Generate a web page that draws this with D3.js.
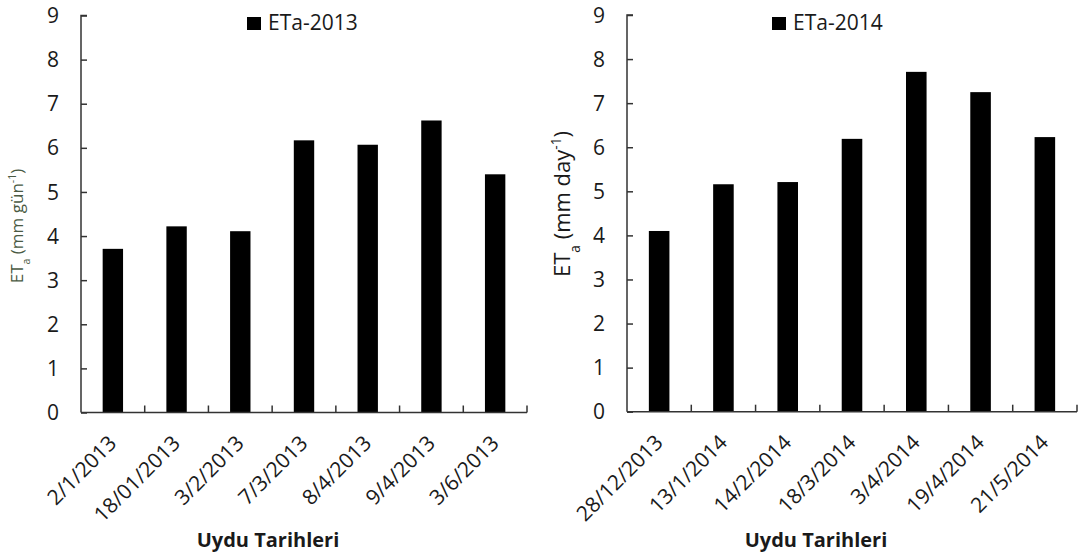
<!DOCTYPE html>
<html>
<head>
<meta charset="utf-8">
<script src="https://cdn.jsdelivr.net/npm/d3@7"></script>
<style>
  body { margin: 0; background: #fff; }
  svg { display: block; font-family: "Open Sans", sans-serif; }
</style>
</head>
<body>
<script>
// data
var dates2013 = ["2/1/2013", "18/01/2013", "3/2/2013", "7/3/2013", "8/4/2013", "9/4/2013", "3/6/2013"];
var eta2013 = [3.71, 4.22, 4.11, 6.17, 6.07, 6.62, 5.40];

var dates2014 = ["28/12/2013", "13/1/2014", "14/2/2014", "18/3/2014", "3/4/2014", "19/4/2014", "21/5/2014"];
var eta2014 = [4.10, 5.16, 5.21, 6.19, 7.71, 7.25, 6.23];

var yTicks = [0, 1, 2, 3, 4, 5, 6, 7, 8, 9];
var xTitle = "Uydu Tarihleri";

var width = 1078, height = 556;

var svg = d3.select("body").append("svg")
    .attr("width", width)
    .attr("height", height);

drawPanel({
  x0: 81, x1: 527, y0: 412.5, y1: 15.5,
  dates: dates2013, values: eta2013, legend: "ETa-2013",
  legendX: 247,
  unit: "gün", titleX: 17, titleY: 226, titleSize: 17, titleColor: "#4a5a43"
});

drawPanel({
  x0: 627, x1: 1077, y0: 411.7, y1: 15,
  dates: dates2014, values: eta2014, legend: "ETa-2014",
  legendX: 772,
  unit: "day", titleX: 562, titleY: 204, titleSize: 22, titleColor: "#1a1a1a"
});

function drawPanel(p) {
  var x = d3.scaleBand()
      .domain(p.dates)
      .range([p.x0, p.x1])
      .padding(0);

  var y = d3.scaleLinear()
      .domain([0, 9])
      .range([p.y0, p.y1]);

  var g = svg.append("g");

  var barW = x.bandwidth() * 0.32;

  g.selectAll("rect.bar")
    .data(p.values)
    .enter().append("rect")
      .attr("class", "bar")
      .attr("x", function(d, i) { return x(p.dates[i]) + x.bandwidth() / 2 - barW / 2; })
      .attr("y", function(d) { return y(d); })
      .attr("width", barW)
      .attr("height", function(d) { return y(0) - y(d); })
      .attr("fill", "#000");

  // y axis, ticks pointing inwards
  var yAxis = g.append("g")
      .attr("transform", "translate(" + p.x0 + ",0)")
      .call(d3.axisRight(y).tickValues(yTicks).tickSize(6).tickFormat(""));
  yAxis.select(".domain").attr("d", "M6," + y(9) + "H0V" + y(0));
  yAxis.selectAll("line, path").attr("stroke", "#333").attr("stroke-width", 1.5);

  g.selectAll("text.ytick")
    .data(yTicks)
    .enter().append("text")
      .attr("class", "ytick")
      .attr("x", p.x0 - 22)
      .attr("y", function(d) { return y(d); })
      .attr("dy", "0.36em")
      .attr("text-anchor", "end")
      .attr("font-size", 21)
      .attr("fill", "#1a1a1a")
      .text(function(d) { return d; });

  // x axis, ticks at category boundaries pointing up
  var bounds = p.dates.map(function(d) { return x(d) + x.bandwidth(); });
  g.append("line")
      .attr("x1", p.x0).attr("x2", p.x1)
      .attr("y1", y(0)).attr("y2", y(0))
      .attr("stroke", "#333").attr("stroke-width", 1.5);
  g.selectAll("line.xtick")
    .data(bounds)
    .enter().append("line")
      .attr("class", "xtick")
      .attr("x1", function(d) { return d; }).attr("x2", function(d) { return d; })
      .attr("y1", y(0)).attr("y2", y(0) - 7)
      .attr("stroke", "#333").attr("stroke-width", 1.5);

  g.selectAll("text.xlabel")
    .data(p.dates)
    .enter().append("text")
      .attr("class", "xlabel")
      .attr("transform", function(d) {
        return "translate(" + (x(d) + x.bandwidth() / 2 + 5) + "," + (y(0) + 32) + ") rotate(-45)";
      })
      .attr("text-anchor", "end")
      .attr("font-size", 21)
      .attr("fill", "#1a1a1a")
      .text(function(d) { return d; });

  g.append("text")
      .attr("x", (p.x0 + p.x1) / 2 - 36)
      .attr("y", 547)
      .attr("text-anchor", "middle")
      .attr("font-size", 20)
      .attr("font-weight", "bold")
      .attr("fill", "#1a1a1a")
      .text(xTitle);

  // legend
  g.append("rect")
      .attr("x", p.legendX).attr("y", 17)
      .attr("width", 14).attr("height", 13)
      .attr("fill", "#000");
  g.append("text")
      .attr("x", p.legendX + 21)
      .attr("y", 30)
      .attr("font-size", 21)
      .attr("fill", "#1a1a1a")
      .text(p.legend);

  // y title with subscript and superscript
  var t = g.append("text")
      .attr("transform", "translate(" + p.titleX + "," + p.titleY + ") rotate(-90)")
      .attr("text-anchor", "middle")
      .attr("dy", "0.35em")
      .attr("font-size", p.titleSize)
      .attr("fill", p.titleColor);
  t.append("tspan").text("ET");
  t.append("tspan").attr("baseline-shift", "sub").attr("font-size", p.titleSize * 0.62).text("a");
  t.append("tspan").text("\u00a0(mm " + p.unit);
  t.append("tspan").attr("baseline-shift", "super").attr("font-size", p.titleSize * 0.62).text("-1");
  t.append("tspan").text(")");
}
</script>
</body>
</html>
